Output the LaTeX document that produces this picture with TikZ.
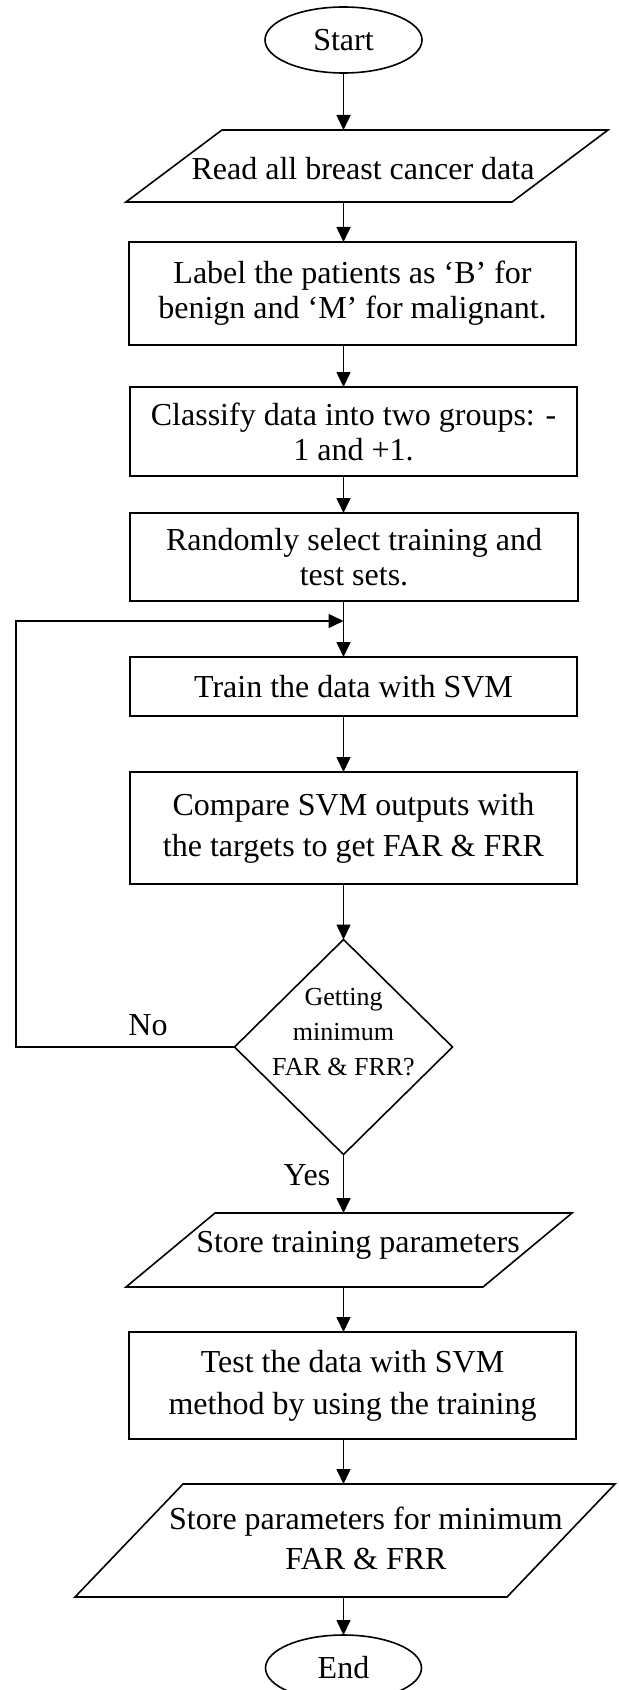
\documentclass[tikz,border=0pt]{standalone}
\usepackage{fontspec}
\setmainfont{Liberation Serif}
\usetikzlibrary{shapes.geometric,arrows.meta}
\begin{document}
\begin{tikzpicture}[x=0.5pt,y=-0.5pt,
  every node/.style={inner sep=0pt, outer sep=0pt},
  ln/.style={line width=0.8pt},
  arr/.style={ln,-{Triangle[length=7.5pt,width=7pt]}},
  boxnode/.style={draw,ln,rectangle,align=center,font=\fontsize{16}{17.5}\selectfont},
  term/.style={draw,ln,ellipse,minimum width=78.5pt,minimum height=33pt,font=\fontsize{16}{18}\selectfont},
  txt/.style={align=center,font=\fontsize{16}{17.5}\selectfont},
  shapebox/.style={rectangle},
]
\useasboundingbox (0,0) rectangle (618,1690);

% terminals
\node[term] (start) at (343.5,40) {Start};

% input: read
\node[shapebox,minimum width=193pt,minimum height=36pt] (read) at (367,166) {};
\draw[ln] ([xshift=24pt]read.north west) -- ([xshift=24pt]read.north east) -- ([xshift=-24pt]read.south east) -- ([xshift=-24pt]read.south west) -- cycle;
\node[txt] (readt) at (363,169) {Read all breast cancer data};

\node[boxnode,minimum width=223.5pt,minimum height=51.5pt] (label) at (352.5,293.5) {Label the patients as ‘B’ for\\benign and ‘M’ for malignant.};

\node[boxnode,minimum width=223.5pt,minimum height=44.5pt] (classify) at (353.5,431.5) {Classify data into two groups: -\\1 and +1.};

\node[boxnode,minimum width=224pt,minimum height=44pt] (random) at (354,557) {Randomly select training and\\test sets.};

\node[boxnode,minimum width=223.5pt,minimum height=29.5pt] (train) at (353.5,686.5) {Train the data with SVM};

\node[boxnode,minimum width=223.5pt,minimum height=56pt,font=\fontsize{16}{20.5}\selectfont] (compare) at (353.5,828) {Compare SVM outputs with\\the targets to get FAR \& FRR};

% decision
\node[draw,ln,diamond,minimum width=109pt,minimum height=107.5pt] (dec) at (343.5,1047) {};
\node[align=center,font=\fontsize{13}{17.5}\selectfont] (dect) at (343.5,1032) {Getting\\minimum\\FAR \& FRR?};

\node[txt] (no) at (148,1025) {No};
\node[txt] (yes) at (307,1175) {Yes};

% input: store training
\node[shapebox,minimum width=178.5pt,minimum height=37pt] (store1) at (349,1250) {};
\draw[ln] ([xshift=22.25pt]store1.north west) -- ([xshift=22.25pt]store1.north east) -- ([xshift=-22.25pt]store1.south east) -- ([xshift=-22.25pt]store1.south west) -- cycle;
\node[txt] (store1t) at (358,1245) {Store training parameters};

\node[boxnode,minimum width=223.5pt,minimum height=53.5pt,font=\fontsize{16}{21}\selectfont] (test) at (352.5,1385.5) {Test the data with SVM\\method by using the training};

% input: store parameters
\node[shapebox,minimum width=216pt,minimum height=56.5pt] (store2) at (345,1540.5) {};
\draw[ln] ([xshift=27pt]store2.north west) -- ([xshift=27pt]store2.north east) -- ([xshift=-27pt]store2.south east) -- ([xshift=-27pt]store2.south west) -- cycle;
\node[align=center,font=\fontsize{16}{20}\selectfont] (store2t) at (366,1538) {Store parameters for minimum\\FAR \& FRR};

\node[term,minimum width=78pt] (end) at (343.5,1668) {End};

% connectors
\draw[arr] (start.south) -- (start |- read.north);
\draw[arr] (start |- read.south) -- (start |- label.north);
\draw[arr] (start |- label.south) -- (start |- classify.north);
\draw[arr] (start |- classify.south) -- (start |- random.north);
\draw[arr] (start |- random.south) -- (start |- train.north);
\draw[arr] (start |- train.south) -- (start |- compare.north);
\draw[arr] (start |- compare.south) -- (dec.north);
\draw[arr] (dec.south) -- (start |- store1.north);
\draw[arr] (start |- store1.south) -- (start |- test.north);
\draw[arr] (start |- test.south) -- (start |- store2.north);
\draw[arr] (start |- store2.south) -- (end.north);

% loop back
\coordinate (lc) at (16,621);
\coordinate (j) at (start |- lc);
\draw[arr] (dec.west) -| (lc) -- (j);
\end{tikzpicture}
\end{document}
